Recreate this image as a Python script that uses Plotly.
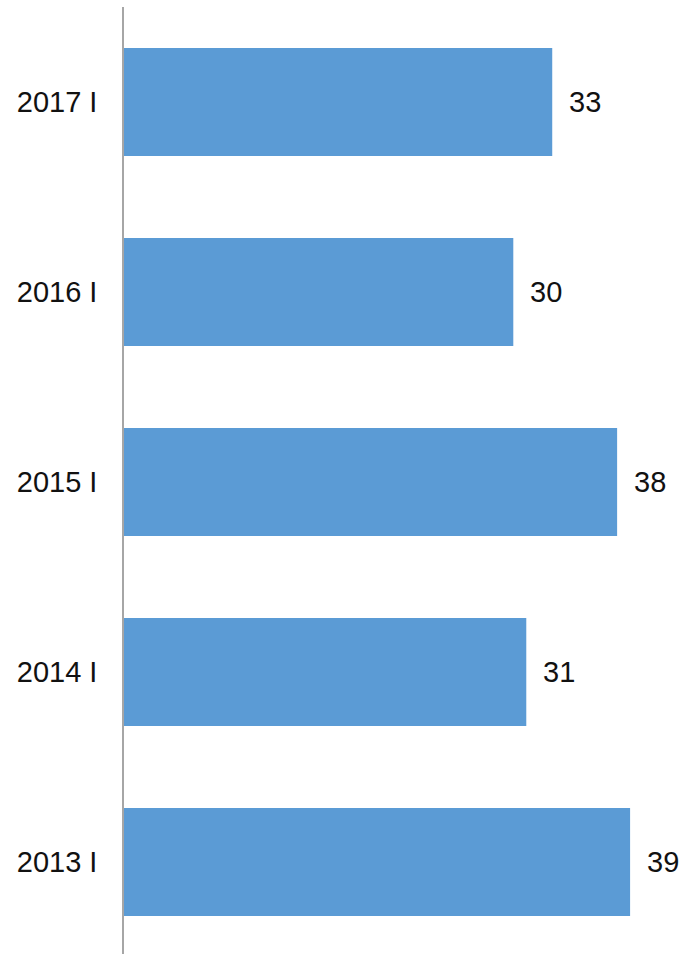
import plotly.graph_objects as go

categories = ["2013 I", "2014 I", "2015 I", "2016 I", "2017 I"]
values = [39, 31, 38, 30, 33]

FONT = dict(family="Liberation Sans, Arial", size=29, color="#111111")

fig = go.Figure()
fig.add_trace(go.Bar(
    y=categories, x=values, orientation="h",
    marker=dict(color="#5B9BD5", line=dict(width=0)),
    width=0.568, hoverinfo="skip",
))

annotations = [
    dict(x=v, y=c, text=str(v), showarrow=False, xanchor="left", yanchor="middle",
         xshift=15, font=FONT)
    for c, v in zip(categories, values)
]

fig.update_layout(
    width=687, height=954,
    margin=dict(l=124, r=5, t=7, b=0, autoexpand=False),
    paper_bgcolor="white", plot_bgcolor="white",
    showlegend=False,
    annotations=annotations,
    xaxis=dict(range=[0, 43], visible=False, fixedrange=True, automargin=False),
    yaxis=dict(
        range=[-0.484, 4.5], automargin=False, fixedrange=True,
        showline=True, linecolor="#A6A6A6", linewidth=1.5,
        showgrid=False, zeroline=False, ticks="",
        ticklabelstandoff=19,
        tickfont=FONT,
    ),
)

fig.write_html(
    "out.html",
    config={"displayModeBar": False},
    post_script="document.body.style.margin='0';document.body.style.overflow='hidden';",
)
